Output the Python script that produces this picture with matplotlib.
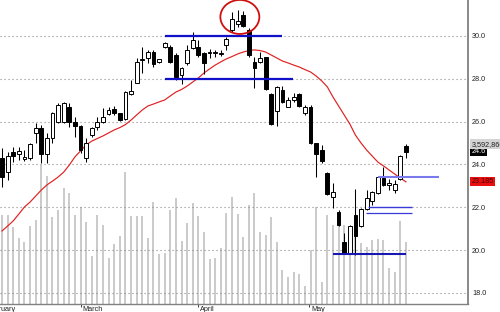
import matplotlib
matplotlib.use("Agg")
import matplotlib.pyplot as plt
import matplotlib.transforms as mtransforms
from matplotlib.patches import Ellipse
import numpy as np

plt.rcParams["font.family"] = ["Liberation Sans", "DejaVu Sans"]

# daily OHLC, Feb -> late May
opens = [24.31, 23.66, 24.59, 24.49, 24.25, 24.29, 25.47, 25.71, 24.49, 25.22,
         26.00, 26.00, 26.70, 26.00, 25.79, 24.29, 25.37, 25.76, 26.00, 26.36,
         26.57, 26.39, 26.11, 27.29, 27.82, 28.88, 28.96, 29.27, 28.77, 29.50,
         29.47, 29.11, 28.18, 28.72, 29.43, 29.50, 29.19, 29.22, 29.19, 29.16,
         29.58, 30.28, 30.56, 30.98, 30.28, 28.80, 28.80, 29.00, 27.29, 26.51,
         27.48, 26.70, 27.01, 27.29, 26.42, 26.67, 24.99, 24.67, 23.61, 22.49,
         21.79, 20.39, 19.85, 21.64, 21.12, 21.90, 22.30, 22.68, 23.35, 23.04,
         22.80, 23.30, 24.85]
highs = [24.77, 24.59, 24.83, 24.83, 24.67, 25.00, 25.93, 25.84, 25.47, 26.45,
         26.86, 26.93, 26.88, 26.23, 25.84, 25.23, 25.76, 26.23, 26.62, 26.67,
         26.73, 26.42, 27.44, 27.94, 28.96, 29.50, 29.35, 29.35, 28.94, 29.73,
         29.58, 29.19, 28.57, 29.58, 30.20, 29.81, 29.27, 29.38, 29.35, 29.35,
         29.97, 31.14, 31.21, 31.18, 30.36, 29.03, 29.27, 29.03, 27.34, 27.66,
         27.66, 27.14, 27.35, 27.35, 26.78, 26.78, 25.01, 24.91, 23.66, 23.12,
         21.87, 20.81, 21.17, 22.84, 21.96, 22.80, 22.77, 23.46, 23.86, 23.30,
         23.27, 24.44, 24.95]
lows = [22.94, 23.27, 24.13, 24.21, 24.17, 24.21, 25.00, 24.07, 24.07, 24.99,
        25.92, 25.93, 25.76, 25.29, 24.52, 24.13, 25.29, 25.61, 25.92, 26.31,
        26.31, 26.04, 26.07, 27.24, 27.79, 28.26, 28.72, 28.57, 28.72, 29.43,
        28.72, 27.94, 27.76, 28.64, 29.38, 29.03, 28.22, 28.96, 29.00, 29.07,
        29.35, 30.20, 30.43, 30.43, 29.03, 27.56, 28.72, 27.48, 25.84, 25.79,
        26.86, 26.67, 26.93, 26.67, 26.31, 24.95, 23.43, 24.05, 22.57, 21.95,
        21.12, 19.82, 19.81, 19.77, 21.07, 21.87, 22.10, 22.62, 22.99, 22.80,
        22.65, 23.27, 24.29]
closes = [23.40, 24.41, 24.41, 24.63, 24.36, 24.95, 25.70, 24.47, 25.23, 26.42,
          26.78, 26.86, 26.00, 25.81, 24.67, 24.99, 25.69, 26.00, 26.23, 26.54,
          26.39, 26.07, 27.40, 27.44, 28.80, 28.88, 29.27, 28.69, 28.91, 29.69,
          28.80, 28.10, 28.49, 29.35, 29.81, 29.11, 28.72, 29.22, 29.19, 29.16,
          29.85, 30.78, 30.71, 30.47, 29.11, 28.49, 28.96, 27.51, 25.89, 27.60,
          26.93, 27.01, 27.16, 26.73, 26.67, 25.01, 24.49, 24.16, 22.62, 22.72,
          21.17, 19.85, 21.12, 20.65, 21.90, 22.42, 22.72, 23.40, 23.04, 23.14,
          23.07, 24.39, 24.60]
# volume in millions of shares
volumes = [5.13, 5.13, 4.42, 3.79, 3.59, 4.50, 4.85, 8.02, 7.38, 5.04,
           5.42, 6.71, 6.39, 5.13, 5.61, 4.71, 2.77, 5.13, 4.56, 2.64,
           3.44, 3.92, 7.60, 5.08, 5.08, 5.08, 3.79, 5.87, 2.88, 2.92,
           5.42, 6.10, 3.65, 4.66, 5.81, 5.08, 4.17, 2.58, 2.67, 3.21,
           5.27, 6.16, 5.19, 3.85, 5.71, 6.42, 4.17, 3.98, 5.04, 3.59,
           1.96, 1.58, 1.86, 1.73, 1.04, 3.12, 5.58, 1.29, 5.13, 4.56,
           4.73, 4.56, 4.39, 4.27, 3.52, 3.31, 3.69, 3.73, 3.69, 2.06,
           1.86, 4.81, 3.592866]
# moving average
ma = [20.89, 21.12, 21.36, 21.68, 22.01, 22.24, 22.52, 22.80, 23.04, 23.22,
      23.41, 23.64, 23.97, 24.35, 24.63, 24.91, 25.09, 25.21, 25.33, 25.47,
      25.61, 25.72, 25.86, 26.07, 26.31, 26.54, 26.73, 26.82, 26.92, 27.01,
      27.20, 27.38, 27.50, 27.66, 27.85, 28.04, 28.27, 28.46, 28.64, 28.79,
      28.93, 29.04, 29.16, 29.25, 29.32, 29.35, 29.32, 29.25, 29.11, 28.97,
      28.83, 28.74, 28.64, 28.55, 28.43, 28.32, 28.13, 27.90, 27.62, 27.15,
      26.73, 26.31, 25.89, 25.37, 25.00, 24.67, 24.39, 24.11, 23.93, 23.74,
      23.55, 23.36, 23.185]

month_names = ["February", "March", "April", "May"]
month_starts = [-3.1, 14, 35, 54.8]
price_ticks = [18, 20, 22, 24, 26, 28, 30]

# drawn support / resistance lines: level, first bar, last bar, colour, width
level_prices = [30.0, 28.0, 23.41, 22.0, 21.71, 19.81]
level_from = [29.0, 29.0, 67.0, 65.2, 64.9, 59.0]
level_to = [49.9, 51.9, 77.9, 73.1, 73.1, 72.0]
level_colors = ["#1010c8", "#1010c8", "#7a7aee", "#3a3ad8", "#3a3ad8", "#1818b0"]
level_widths = [1.6, 1.6, 1.5, 1.0, 0.9, 1.5]

n = len(closes)
x = np.arange(n)
o, h, l, c = map(np.array, (opens, highs, lows, closes))

fig = plt.figure(figsize=(5.0, 3.12), dpi=100)
rect = [0, 8 / 312, 468 / 500, 304 / 312]
xlim = (-0.357, 83.07)

axv = fig.add_axes(rect)
axv.bar(x, volumes, width=0.36, color="#cbcbcb", linewidth=0)
axv.set_xlim(*xlim)
axv.set_ylim(0, 17.53)
axv.axis("off")

ax = fig.add_axes(rect)
ax.patch.set_alpha(0)

for p in price_ticks:
    ax.axhline(p, color="#8a8a8a", lw=0.8, ls=(0, (1, 2.6)), zorder=1)

ax.plot(x, ma, color="#e02020", lw=0.85, zorder=2)

ax.vlines(x, l, h, color="black", lw=0.75, zorder=3)
up = c >= o
body_lo = np.minimum(o, c)
body_h = np.maximum(np.abs(c - o), 0.04)
ax.bar(x[up], body_h[up], bottom=body_lo[up], width=0.68, color="white",
       edgecolor="black", linewidth=0.7, zorder=4)
ax.bar(x[~up], body_h[~up], bottom=body_lo[~up], width=0.68, color="black",
       edgecolor="black", linewidth=0.7, zorder=4)

for lv, a, b, col, w in zip(level_prices, level_from, level_to,
                            level_colors, level_widths):
    ax.hlines(lv, a, b, color=col, lw=w, zorder=5)

# red circle around the top
ax.add_patch(Ellipse((42.4, 30.89), 6.95, 1.59, fill=False,
                     edgecolor="#d01010", lw=1.3, zorder=6))

for s in ("top", "left"):
    ax.spines[s].set_visible(False)
ax.spines["right"].set_color("#808080")
ax.spines["right"].set_linewidth(1.3)
ax.spines["bottom"].set_color("#808080")
ax.spines["bottom"].set_linewidth(1.0)

ax.yaxis.tick_right()
ax.set_yticks(price_ticks)
ax.set_yticklabels([f"{p:.1f}" for p in price_ticks])
ax.tick_params(axis="y", length=0, pad=3, labelsize=5.2, labelcolor="#202020")

ax.set_xticks(month_starts)
ax.set_xticklabels([])
ax.tick_params(axis="x", length=2, width=0.7, color="#404040")
# limits last: set_xticks would widen them
ax.set_xlim(*xlim)
ax.set_ylim(17.477, 31.682)

trans = mtransforms.blended_transform_factory(ax.transData, ax.transAxes)
for m, xi in zip(month_names, month_starts):
    ax.text(xi + 0.3, -0.005, m, transform=trans, ha="left", va="top",
            fontsize=5.2, color="#202020", clip_on=False)

# last-value labels on the price scale
ytr = mtransforms.blended_transform_factory(ax.transAxes, ax.transData)
ax.text(1.007, closes[-1], f"{closes[-1]:.1f}", transform=ytr, ha="left",
        va="center", fontsize=5.2, color="white",
        bbox=dict(boxstyle="square,pad=0.15", fc="black", ec="none"))
ax.annotate(f"{volumes[-1] * 1e6:,.0f}", xy=(1.007, closes[-1]), xycoords=ytr,
            xytext=(0, 5.4), textcoords="offset points", ha="left", va="center",
            fontsize=5.2, color="#202020",
            bbox=dict(boxstyle="square,pad=0.15", fc="#d4d4d4", ec="none"))
ax.text(1.007, ma[-1], f"{ma[-1]:.3f}", transform=ytr, ha="left",
        va="center", fontsize=5.2, color="#500000",
        bbox=dict(boxstyle="square,pad=0.15", fc="#e81010", ec="none"))

fig.savefig("out.png", dpi=100)
